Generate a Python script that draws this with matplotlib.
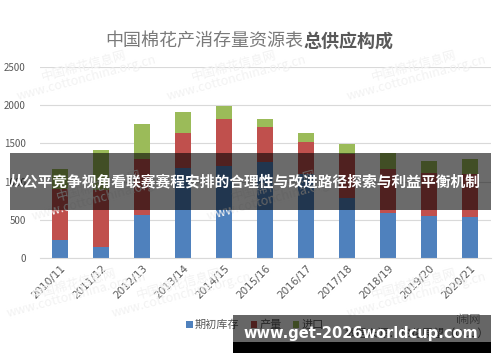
import matplotlib.pyplot as plt
import matplotlib.patches as mpatches
import numpy as np

plt.rcParams['font.family'] = ['Noto Sans CJK SC', 'DejaVu Sans']

seasons = ['2010/11', '2011/12', '2012/13', '2013/14', '2014/15', '2015/16',
           '2016/17', '2017/18', '2018/19', '2019/20', '2020/21']
stock = [235, 144, 570, 1180, 1210, 1253, 1100, 783, 587, 550, 535]
production = [665, 746, 722, 451, 615, 457, 414, 574, 578, 565, 560]
imports = [260, 530, 456, 284, 170, 104, 117, 131, 205, 155, 200]
series_names = ['期初库存', '产量', '进口']
colors = ['#4f81bd', '#c0504d', '#9bbb59']

fig = plt.figure(figsize=(5, 3.62), dpi=100)
ax = fig.add_axes([0.079, 0.287, 0.902, 0.528])

x = np.arange(len(seasons))
bottom = np.zeros(len(seasons))
for vals, name, c in zip([stock, production, imports], series_names, colors):
    ax.bar(x, vals, width=0.4, bottom=bottom, color=c, label=name, zorder=2)
    bottom += np.array(vals)

ax.set_xlim(-0.5, len(seasons) - 0.5)
ax.set_ylim(0, 2500)
ax.set_yticks(range(0, 2501, 500))
ax.grid(axis='y', color='#d9d9d9', lw=0.8, zorder=0)
for s in ['top', 'right', 'left']:
    ax.spines[s].set_visible(False)
ax.spines['bottom'].set_color('#d9d9d9')
ax.tick_params(length=0, labelsize=7, colors='#595959')
ax.tick_params(axis='y', pad=10)
ax.set_xticks(x)
ax.set_xticklabels(seasons, rotation=45, ha='right', va='top',
                   rotation_mode='anchor', fontsize=7.5, family='DejaVu Sans')

# title
fig.text(0.606, 0.885, '中国棉花产消存量资源表', ha='right', va='center',
         fontsize=13, color='#7a7a7a')
fig.text(0.606, 0.885, '总供应构成', ha='left', va='center',
         fontsize=13, color='#595959', weight='bold')

# legend
leg = fig.legend(loc='center', bbox_to_anchor=(0.51, 0.103), ncol=3, frameon=False,
                 fontsize=8, handlelength=0.6, handleheight=0.6,
                 handletextpad=0.2, columnspacing=1.0, labelcolor='#595959')
fig.text(0.69, 0.08, '数据来源：棉花展望（CCO）', fontsize=8, color='#595959',
         ha='left', va='center')
fig.text(0.935, 0.117, 'i闹网', fontsize=8, color='#8a8a8a', ha='center', va='center')

# faint watermarks
for wx, wy in [(0.17, 0.8), (0.47, 0.8), (0.83, 0.8), (0.36, 0.2),
               (0.15, 0.2), (0.83, 0.2), (0.55, 0.47), (0.2, 0.47)]:
    fig.text(wx, wy, '中国棉花信息网\nwww.cottonchina.org.cn', fontsize=9,
             color='#f2f2f2', rotation=15, ha='center', va='center',
             linespacing=0.9, zorder=0)

# overlay banner
fig.patches.append(mpatches.Rectangle((0.02, 0.42), 0.962, 0.158, transform=fig.transFigure,
                                      facecolor='black', alpha=0.58, zorder=10))
fig.text(0.49, 0.5, '从公平竞争视角看联赛赛程安排的合理性与改进路径探索与利益平衡机制',
         ha='center', va='center', fontsize=10.6, color='white', weight='bold', zorder=11)

# bottom site box
fig.patches.append(mpatches.Rectangle((0.466, 0.055), 0.516, 0.075, transform=fig.transFigure,
                                      facecolor='black', alpha=0.6, zorder=10))
fig.patches.append(mpatches.Rectangle((0.466, 0.025), 0.516, 0.03, transform=fig.transFigure,
                                      facecolor='black', zorder=10))
fig.text(0.722, 0.08, 'www.get-2026worldcup.com', ha='center', va='center',
         fontsize=10.5, color='white', weight='bold', family='DejaVu Sans', zorder=11)

fig.savefig('out.png', dpi=100)
